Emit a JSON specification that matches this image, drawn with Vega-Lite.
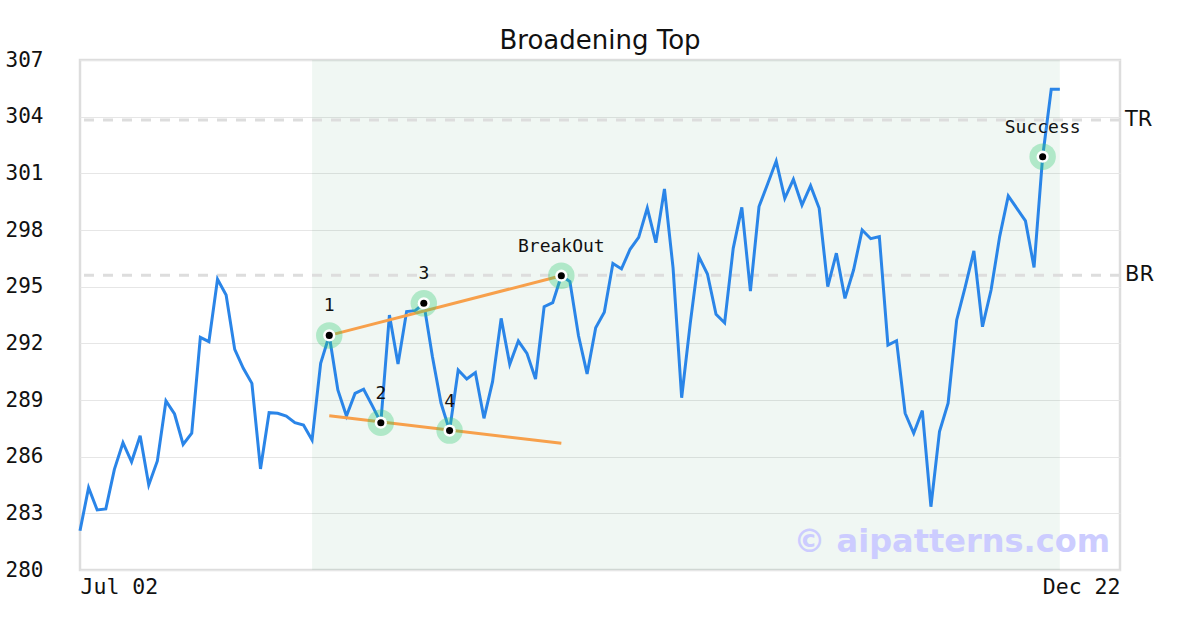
{
  "$schema": "https://vega.github.io/schema/vega-lite/v6.json",
  "autosize": "none",
  "width": 1040,
  "height": 510,
  "padding": {"left": 80, "top": 60, "right": 80, "bottom": 60},
  "background": "white",
  "title": {"text": "Broadening Top", "font": "DejaVu Sans", "fontSize": 26, "fontWeight": "normal", "color": "#111111", "offset": -5},
  "config": {
    "view": {"stroke": "#dddddd", "strokeWidth": 2.5},
    "axis": {"labelFont": "DejaVu Sans Mono", "labelFontSize": 21, "labelColor": "#111111", "domain": false, "ticks": false, "title": null}
  },
  "datasets": {
    "prices": [
      {"idx":0,"price":282.08},{"idx":1,"price":284.36},{"idx":2,"price":283.18},{"idx":3,"price":283.23},{"idx":4,"price":285.33},
      {"idx":5,"price":286.74},{"idx":6,"price":285.73},{"idx":7,"price":287.11},{"idx":8,"price":284.5},{"idx":9,"price":285.77},
      {"idx":10,"price":288.95},{"idx":11,"price":288.26},{"idx":12,"price":286.65},{"idx":13,"price":287.24},{"idx":14,"price":292.32},
      {"idx":15,"price":292.09},{"idx":16,"price":295.39},{"idx":17,"price":294.56},{"idx":18,"price":291.68},{"idx":19,"price":290.68},
      {"idx":20,"price":289.88},{"idx":21,"price":285.35},{"idx":22,"price":288.33},{"idx":23,"price":288.3},{"idx":24,"price":288.15},
      {"idx":25,"price":287.8},{"idx":26,"price":287.68},{"idx":27,"price":286.88},{"idx":28,"price":290.94},{"idx":29,"price":292.42},
      {"idx":30,"price":289.53},{"idx":31,"price":288.15},{"idx":32,"price":289.35},{"idx":33,"price":289.57},{"idx":34,"price":288.7},
      {"idx":35,"price":287.8},{"idx":36,"price":293.5},{"idx":37,"price":290.9},{"idx":38,"price":293.68},{"idx":39,"price":293.73},
      {"idx":40,"price":294.12},{"idx":41,"price":291.3},{"idx":42,"price":288.84},{"idx":43,"price":287.38},{"idx":44,"price":290.59},
      {"idx":45,"price":290.11},{"idx":46,"price":290.45},{"idx":47,"price":288.03},{"idx":48,"price":289.97},{"idx":49,"price":293.32},
      {"idx":50,"price":290.89},{"idx":51,"price":292.12},{"idx":52,"price":291.47},{"idx":53,"price":290.11},{"idx":54,"price":293.94},
      {"idx":55,"price":294.15},{"idx":56,"price":295.58},{"idx":57,"price":295.27},{"idx":58,"price":292.4},{"idx":59,"price":290.38},
      {"idx":60,"price":292.83},{"idx":61,"price":293.64},{"idx":62,"price":296.23},{"idx":63,"price":295.94},{"idx":64,"price":296.98},
      {"idx":65,"price":297.61},{"idx":66,"price":299.16},{"idx":67,"price":297.33},{"idx":68,"price":300.17},{"idx":69,"price":296.0},
      {"idx":70,"price":289.12},{"idx":71,"price":293.06},{"idx":72,"price":296.59},{"idx":73,"price":295.67},{"idx":74,"price":293.54},
      {"idx":75,"price":293.09},{"idx":76,"price":297.03},{"idx":77,"price":299.2},{"idx":78,"price":294.77},{"idx":79,"price":299.24},
      {"idx":80,"price":300.44},{"idx":81,"price":301.65},{"idx":82,"price":299.68},{"idx":83,"price":300.68},{"idx":84,"price":299.32},
      {"idx":85,"price":300.35},{"idx":86,"price":299.15},{"idx":87,"price":295.0},{"idx":88,"price":296.77},{"idx":89,"price":294.38},
      {"idx":90,"price":295.88},{"idx":91,"price":298.0},{"idx":92,"price":297.54},{"idx":93,"price":297.65},{"idx":94,"price":291.91},
      {"idx":95,"price":292.14},{"idx":96,"price":288.3},{"idx":97,"price":287.24},{"idx":98,"price":288.44},{"idx":99,"price":283.35},
      {"idx":100,"price":287.33},{"idx":101,"price":288.83},{"idx":102,"price":293.24},{"idx":103,"price":295.0},{"idx":104,"price":296.89},
      {"idx":105,"price":292.88},{"idx":106,"price":294.82},{"idx":107,"price":297.65},{"idx":108,"price":299.8},{"idx":109,"price":299.15},
      {"idx":110,"price":298.48},{"idx":111,"price":296.02},{"idx":112,"price":301.88},{"idx":113,"price":305.45},{"idx":114,"price":305.45}
    ],
    "pivots": [
      {"idx":29,"price":292.42,"label":"1"},
      {"idx":35,"price":287.8,"label":"2"},
      {"idx":40,"price":294.12,"label":"3"},
      {"idx":43,"price":287.38,"label":"4"},
      {"idx":56,"price":295.58,"label":"BreakOut"},
      {"idx":112,"price":301.88,"label":"Success"}
    ],
    "trends": [
      {"idx":29,"price":292.42,"side":"upper"},
      {"idx":56,"price":295.58,"side":"upper"},
      {"idx":29,"price":288.17,"side":"lower"},
      {"idx":56,"price":286.71,"side":"lower"}
    ],
    "levels": [
      {"level":"TR","value":303.82},
      {"level":"BR","value":295.6}
    ],
    "zone": [{"start":27,"end":114}],
    "mark": [{"idx":121,"price":281.5,"text":"© aipatterns.com"}]
  },
  "encoding": {
    "x": {"field": "idx", "type": "quantitative", "scale": {"domain": [0, 121], "nice": false, "zero": false},
      "axis": {"values": [0, 121], "grid": false, "labelFlush": true, "labelPadding": 6, "labelFontSize": 21.5, "labelExpr": "datum.value == 0 ? 'Jul 02' : 'Dec 22'"}},
    "y": {"field": "price", "type": "quantitative", "scale": {"domain": [280, 307], "nice": false, "zero": false},
      "axis": {"values": [280,283,286,289,292,295,298,301,304,307], "grid": true, "gridColor": "#e6e6e6", "gridWidth": 1, "labelPadding": 37}}
  },
  "layer": [
    {"data": {"name": "zone"}, "mark": {"type": "rect", "fill": "#2e8b57", "opacity": 0.07},
      "encoding": {"x": {"field": "start", "type": "quantitative"}, "x2": {"field": "end"}, "y": null}},
    {"data": {"name": "levels"}, "mark": {"type": "rule", "color": "#dddddd", "strokeWidth": 3, "strokeDash": [10, 9]},
      "encoding": {"x": null, "y": {"field": "value", "type": "quantitative"}}},
    {"data": {"name": "levels"}, "mark": {"type": "text", "align": "left", "baseline": "middle", "dx": 5, "font": "DejaVu Sans", "fontSize": 21, "fill": "#111111"},
      "encoding": {"x": {"value": "width"}, "y": {"field": "value", "type": "quantitative"}, "text": {"field": "level", "type": "nominal"}}},
    {"data": {"name": "prices"}, "mark": {"type": "line", "color": "#2a85e8", "strokeWidth": 3}},
    {"data": {"name": "trends"}, "mark": {"type": "line", "color": "#f7a04b", "strokeWidth": 3},
      "encoding": {"detail": {"field": "side"}}},
    {"data": {"name": "pivots"}, "mark": {"type": "point", "filled": true, "shape": "circle", "size": 700, "color": "#2ecc71", "opacity": 0.33}},
    {"data": {"name": "pivots"}, "mark": {"type": "point", "filled": true, "shape": "circle", "size": 150, "color": "#ffffff", "opacity": 1}},
    {"data": {"name": "pivots"}, "mark": {"type": "point", "filled": true, "shape": "circle", "size": 50, "color": "#000000", "opacity": 1}},
    {"data": {"name": "pivots"}, "mark": {"type": "text", "baseline": "middle", "align": "center", "dy": -29, "font": "DejaVu Sans Mono", "fontSize": 18, "color": "#111111"},
      "encoding": {"text": {"field": "label"}}},
    {"data": {"name": "mark"}, "mark": {"type": "text", "align": "right", "baseline": "middle", "dx": -10, "font": "DejaVu Sans", "fontWeight": "bold", "fontSize": 32, "color": "#ccccff"},
      "encoding": {"text": {"field": "text"}}}
  ]
}
